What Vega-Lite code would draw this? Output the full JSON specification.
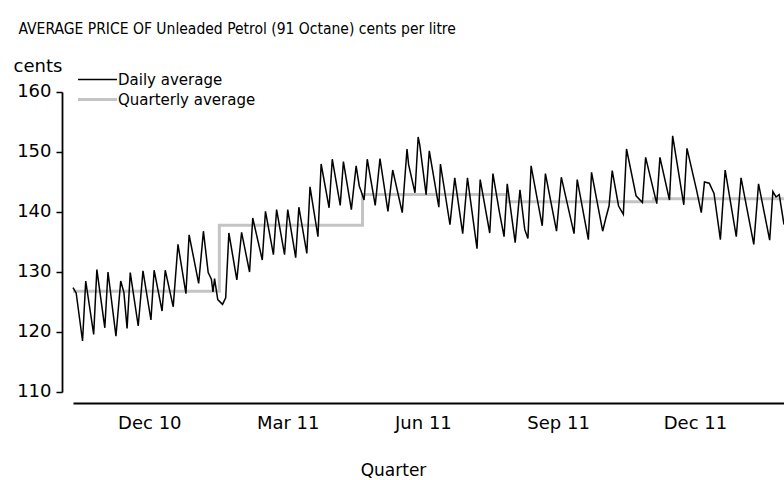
{
  "$schema": "https://vega.github.io/schema/vega-lite/v6.json",
  "width": 711,
  "height": 300,
  "autosize": "none",
  "padding": {"left": 73, "top": 92, "right": 0, "bottom": 88},
  "background": "white",
  "title": {
    "text": "AVERAGE PRICE OF Unleaded Petrol (91 Octane) cents per litre",
    "anchor": "start",
    "frame": "group",
    "dx": -54.5,
    "offset": 8,
    "baseline": "alphabetic",
    "font": "DejaVu Sans Condensed, DejaVu Sans",
    "fontSize": 15.5,
    "fontWeight": "normal",
    "color": "#000000"
  },
  "datasets": {
    "daily": [
      {"date": "2010-10-01", "price": 127.4},
      {"date": "2010-10-03", "price": 126.5},
      {"date": "2010-10-07", "price": 118.5},
      {"date": "2010-10-09", "price": 128.5},
      {"date": "2010-10-14", "price": 119.6},
      {"date": "2010-10-16", "price": 130.4},
      {"date": "2010-10-21", "price": 120.7},
      {"date": "2010-10-23", "price": 130.0},
      {"date": "2010-10-28", "price": 119.3},
      {"date": "2010-10-31", "price": 128.5},
      {"date": "2010-11-02", "price": 126.6},
      {"date": "2010-11-04", "price": 120.6},
      {"date": "2010-11-06", "price": 129.9},
      {"date": "2010-11-11", "price": 121.0},
      {"date": "2010-11-14", "price": 130.2},
      {"date": "2010-11-19", "price": 122.0},
      {"date": "2010-11-21", "price": 130.3},
      {"date": "2010-11-26", "price": 123.5},
      {"date": "2010-11-28", "price": 130.3},
      {"date": "2010-12-03", "price": 124.2},
      {"date": "2010-12-06", "price": 134.6},
      {"date": "2010-12-11", "price": 126.4},
      {"date": "2010-12-13", "price": 136.2},
      {"date": "2010-12-19", "price": 128.1},
      {"date": "2010-12-22", "price": 136.8},
      {"date": "2010-12-25", "price": 129.9},
      {"date": "2010-12-27", "price": 128.8},
      {"date": "2010-12-28", "price": 126.7},
      {"date": "2010-12-29", "price": 128.9},
      {"date": "2010-12-31", "price": 125.4},
      {"date": "2011-01-03", "price": 124.6},
      {"date": "2011-01-05", "price": 125.7},
      {"date": "2011-01-07", "price": 136.5},
      {"date": "2011-01-12", "price": 128.7},
      {"date": "2011-01-15", "price": 136.6},
      {"date": "2011-01-20", "price": 130.0},
      {"date": "2011-01-22", "price": 139.0},
      {"date": "2011-01-28", "price": 132.0},
      {"date": "2011-01-30", "price": 140.1},
      {"date": "2011-02-04", "price": 132.9},
      {"date": "2011-02-06", "price": 140.4},
      {"date": "2011-02-11", "price": 132.9},
      {"date": "2011-02-13", "price": 140.4},
      {"date": "2011-02-18", "price": 132.4},
      {"date": "2011-02-20", "price": 140.8},
      {"date": "2011-02-25", "price": 133.1},
      {"date": "2011-02-27", "price": 144.2},
      {"date": "2011-03-04", "price": 135.9},
      {"date": "2011-03-06", "price": 148.0},
      {"date": "2011-03-11", "price": 140.7},
      {"date": "2011-03-13", "price": 148.8},
      {"date": "2011-03-18", "price": 141.1},
      {"date": "2011-03-20", "price": 148.4},
      {"date": "2011-03-25", "price": 140.4},
      {"date": "2011-03-28", "price": 147.7},
      {"date": "2011-03-30", "price": 144.3},
      {"date": "2011-03-31", "price": 143.6},
      {"date": "2011-04-02", "price": 142.0},
      {"date": "2011-04-04", "price": 148.8},
      {"date": "2011-04-09", "price": 141.1},
      {"date": "2011-04-12", "price": 148.9},
      {"date": "2011-04-17", "price": 140.1},
      {"date": "2011-04-20", "price": 147.0},
      {"date": "2011-04-26", "price": 139.9},
      {"date": "2011-04-29", "price": 150.5},
      {"date": "2011-04-30", "price": 147.9},
      {"date": "2011-05-04", "price": 143.2},
      {"date": "2011-05-06", "price": 152.5},
      {"date": "2011-05-07", "price": 151.2},
      {"date": "2011-05-11", "price": 142.9},
      {"date": "2011-05-13", "price": 150.2},
      {"date": "2011-05-19", "price": 140.8},
      {"date": "2011-05-20", "price": 148.0},
      {"date": "2011-05-26", "price": 137.9},
      {"date": "2011-05-29", "price": 145.7},
      {"date": "2011-06-03", "price": 136.4},
      {"date": "2011-06-06", "price": 145.7},
      {"date": "2011-06-12", "price": 133.9},
      {"date": "2011-06-14", "price": 145.4},
      {"date": "2011-06-20", "price": 136.5},
      {"date": "2011-06-22", "price": 146.4},
      {"date": "2011-06-26", "price": 140.1},
      {"date": "2011-06-29", "price": 135.9},
      {"date": "2011-07-01", "price": 144.7},
      {"date": "2011-07-06", "price": 134.9},
      {"date": "2011-07-09", "price": 143.7},
      {"date": "2011-07-12", "price": 137.1},
      {"date": "2011-07-14", "price": 135.6},
      {"date": "2011-07-16", "price": 147.7},
      {"date": "2011-07-23", "price": 137.7},
      {"date": "2011-07-25", "price": 146.4},
      {"date": "2011-08-01", "price": 136.8},
      {"date": "2011-08-04", "price": 145.8},
      {"date": "2011-08-12", "price": 136.4},
      {"date": "2011-08-14", "price": 145.4},
      {"date": "2011-08-21", "price": 135.4},
      {"date": "2011-08-23", "price": 146.6},
      {"date": "2011-08-30", "price": 136.8},
      {"date": "2011-09-01", "price": 139.0},
      {"date": "2011-09-03", "price": 141.0},
      {"date": "2011-09-05", "price": 146.9},
      {"date": "2011-09-09", "price": 141.0},
      {"date": "2011-09-12", "price": 139.6},
      {"date": "2011-09-14", "price": 150.5},
      {"date": "2011-09-20", "price": 142.7},
      {"date": "2011-09-24", "price": 141.6},
      {"date": "2011-09-26", "price": 149.1},
      {"date": "2011-10-03", "price": 141.4},
      {"date": "2011-10-05", "price": 149.1},
      {"date": "2011-10-11", "price": 142.0},
      {"date": "2011-10-13", "price": 152.7},
      {"date": "2011-10-20", "price": 141.2},
      {"date": "2011-10-22", "price": 150.6},
      {"date": "2011-10-28", "price": 143.7},
      {"date": "2011-10-31", "price": 139.9},
      {"date": "2011-11-02", "price": 145.0},
      {"date": "2011-11-05", "price": 144.8},
      {"date": "2011-11-08", "price": 143.1},
      {"date": "2011-11-12", "price": 135.4},
      {"date": "2011-11-15", "price": 147.0},
      {"date": "2011-11-22", "price": 135.9},
      {"date": "2011-11-25", "price": 145.7},
      {"date": "2011-12-03", "price": 134.6},
      {"date": "2011-12-06", "price": 144.7},
      {"date": "2011-12-13", "price": 135.3},
      {"date": "2011-12-15", "price": 143.4},
      {"date": "2011-12-17", "price": 142.5},
      {"date": "2011-12-19", "price": 142.9},
      {"date": "2011-12-22", "price": 137.9}
    ],
    "quarterly": [
      {"date": "2010-10-01", "price": 126.8},
      {"date": "2011-01-01", "price": 137.8},
      {"date": "2011-04-01", "price": 142.9},
      {"date": "2011-07-01", "price": 141.7},
      {"date": "2011-10-01", "price": 142.2},
      {"date": "2011-12-22", "price": 142.2}
    ]
  },
  "encoding": {
    "x": {
      "field": "date",
      "type": "temporal",
      "scale": {
        "type": "utc",
        "nice": false,
        "domain": [
          {"year": 2010, "month": 10, "date": 1, "utc": true},
          {"year": 2011, "month": 12, "date": 22, "utc": true}
        ]
      },
      "axis": {
        "values": [
          {"year": 2010, "month": 11, "date": 18, "utc": true},
          {"year": 2011, "month": 2, "date": 13, "utc": true},
          {"year": 2011, "month": 5, "date": 9, "utc": true},
          {"year": 2011, "month": 8, "date": 2, "utc": true},
          {"year": 2011, "month": 10, "date": 27, "utc": true}
        ],
        "labelExpr": "(utcmonth(datum.value) >= 9 ? 'Dec' : utcmonth(datum.value) <= 2 ? 'Mar' : utcmonth(datum.value) <= 5 ? 'Jun' : 'Sep') + ' ' + utcFormat(datum.value, '%y')",
        "title": "Quarter",
        "titleX": 320,
        "titleY": 72,
        "titleBaseline": "alphabetic",
        "titleAlign": "center",
        "titleFontSize": 17,
        "ticks": false,
        "tickSize": 0,
        "labelPadding": 11,
        "labelBaseline": "top",
        "offset": 11,
        "grid": false
      }
    },
    "y": {
      "field": "price",
      "type": "quantitative",
      "scale": {"domain": [110, 160], "nice": false, "zero": false},
      "axis": {
        "values": [110, 120, 130, 140, 150, 160],
        "title": "cents",
        "titleAngle": 0,
        "titleAlign": "left",
        "titleBaseline": "alphabetic",
        "titleX": -49,
        "titleY": -21,
        "titleFontSize": 18,
        "tickSize": 6,
        "tickWidth": 1.5,
        "tickColor": "#000000",
        "labelPadding": 5,
        "labelOffset": -1,
        "offset": 11,
        "grid": false
      }
    }
  },
  "layer": [
    {
      "data": {"name": "quarterly"},
      "mark": {"type": "line", "interpolate": "step-after", "strokeWidth": 3},
      "encoding": {
        "color": {
          "datum": "Quarterly average",
          "type": "nominal",
          "scale": {"domain": ["Daily average", "Quarterly average"], "range": ["#000000", "#c4c4c4"]},
          "legend": {
            "orient": "none",
            "legendX": 17,
            "legendY": -20,
            "title": null,
            "symbolType": "stroke",
            "symbolSize": 1521,
            "symbolStrokeWidth": 1.5,
            "rowPadding": 4,
            "labelOffset": 13,
            "padding": 0,
            "encode": {
              "symbols": {
                "update": {
                  "strokeWidth": {"signal": "datum.value === 'Daily average' ? 1.5 : 3"}
                }
              }
            }
          }
        }
      }
    },
    {
      "data": {"name": "daily"},
      "mark": {"type": "line", "strokeWidth": 1.5},
      "encoding": {
        "color": {"datum": "Daily average", "type": "nominal"}
      }
    }
  ],
  "config": {
    "view": {"stroke": null},
    "font": "DejaVu Sans",
    "axis": {
      "domainColor": "#000000",
      "domainWidth": 1.8,
      "labelColor": "#000000",
      "labelFont": "DejaVu Sans",
      "labelFontSize": 18,
      "titleColor": "#000000",
      "titleFont": "DejaVu Sans",
      "titleFontWeight": "normal"
    },
    "legend": {
      "labelFont": "DejaVu Sans",
      "labelFontSize": 15,
      "labelColor": "#000000"
    }
  }
}
